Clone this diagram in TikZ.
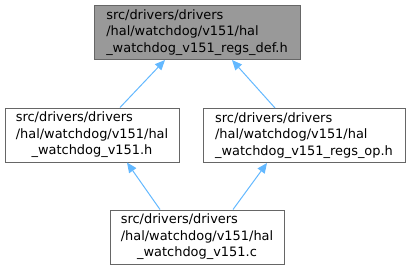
\documentclass[tikz,border=0pt]{standalone}
\usepackage{fontspec}
\setmainfont{DejaVu Sans}
\usetikzlibrary{arrows.meta}
\definecolor{edgeblue}{HTML}{63B8FF}
\definecolor{boxline}{HTML}{666666}
\definecolor{curfill}{HTML}{999999}
% two left lines, last line centred
\newcommand{\filelabel}[3]{\begin{tabular}{@{}l@{}}#1\\#2\\\multicolumn{1}{@{}c@{}}{#3}\end{tabular}}

\begin{document}
\begin{tikzpicture}[x=0.75pt, y=-0.75pt,
    file/.style={draw=boxline, line width=0.75pt, fill=white, align=center,
                 inner sep=0pt, minimum height=40.5pt,
                 font=\fontsize{9.7pt}{12.4pt}\selectfont},
    current/.style={file, fill=curfill},
    dep/.style={draw=edgeblue, line width=0.75pt,
                -{Triangle[length=7.5pt, width=6.5pt]}},
  ]
  \useasboundingbox (0,0) rectangle (410,271);

  \node[current, minimum width=154.5pt] (regsdef) at (197,32.5)
    {\filelabel{src/drivers/drivers}{/hal/watchdog/v151/hal}{\_watchdog\_v151\_regs\_def.h}};
  \node[file, minimum width=130.5pt]    (halh)    at (92,135)
    {\filelabel{src/drivers/drivers}{/hal/watchdog/v151/hal}{\_watchdog\_v151.h}};
  \node[file, minimum width=151.5pt]    (regsop)  at (304,135.5)
    {\filelabel{src/drivers/drivers}{/hal/watchdog/v151/hal}{\_watchdog\_v151\_regs\_op.h}};
  \node[file, minimum width=130.5pt]    (halc)    at (197,237)
    {\filelabel{src/drivers/drivers}{/hal/watchdog/v151/hal}{\_watchdog\_v151.c}};

  \draw[dep] ([xshift=21pt]halh.north)    -- ([xshift=-24pt]regsdef.south);
  \draw[dep] ([xshift=-21.75pt]regsop.north) -- ([xshift=26.25pt]regsdef.south);
  \draw[dep] ([xshift=-27.75pt]halc.north) -- ([xshift=26.25pt]halh.south);
  \draw[dep] ([xshift=27pt]halc.north)     -- ([xshift=-27.75pt]regsop.south);
\end{tikzpicture}
\end{document}
